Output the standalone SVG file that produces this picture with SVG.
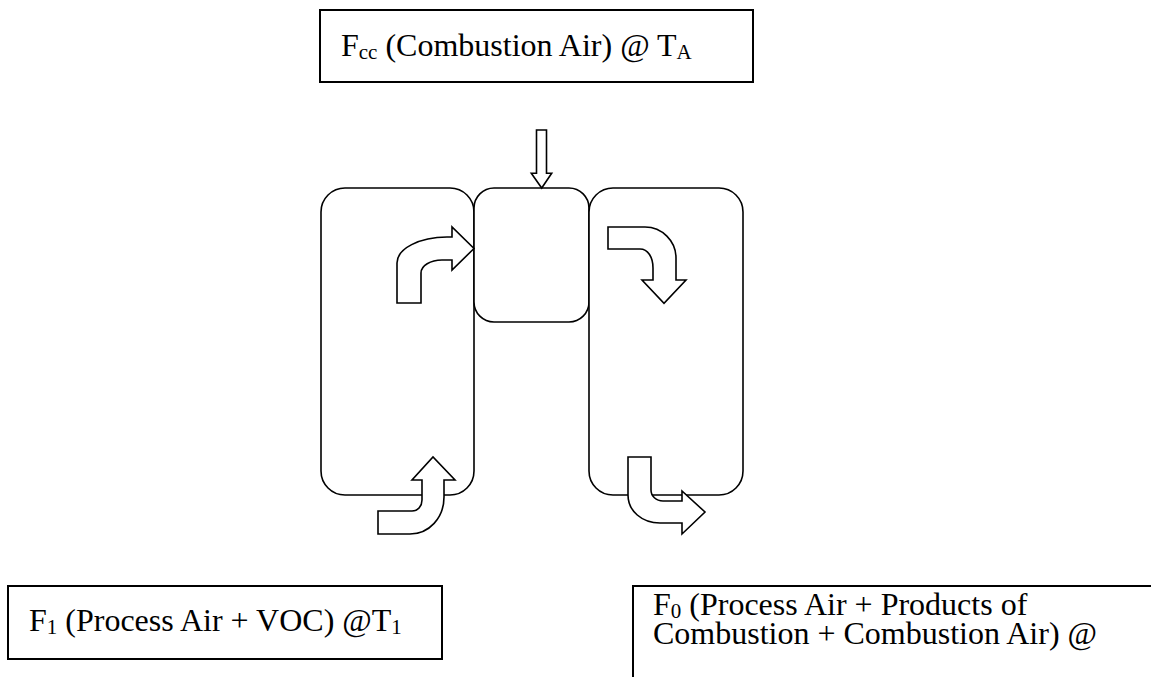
<svg xmlns="http://www.w3.org/2000/svg" width="1151" height="677" viewBox="0 0 1151 677">
<style>
.box{fill:#fff;stroke:#000;stroke-width:2}
.unit{fill:#fff;stroke:#000;stroke-width:1.6}
.arr{fill:#fff;stroke:#000;stroke-width:1.6;stroke-linejoin:miter}
.t{font-family:"Liberation Serif","Times New Roman",serif;font-size:32px;fill:#000}
.sub{font-size:21px}
</style>
<rect width="1151" height="677" fill="#fff"/>
<g id="label-combustion-air">
<rect class="box" x="320" y="10" width="433" height="72"/>
<text class="t" x="341" y="56">F<tspan class="sub" dy="3">cc</tspan><tspan dy="-3"> (Combustion Air) @ T</tspan><tspan class="sub" dy="3">A</tspan></text>
</g>
<g id="preheat-chamber">
<rect class="unit" x="321" y="188" width="153" height="307" rx="24"/>
</g>
<g id="combustion-chamber">
<rect class="unit" x="474" y="188" width="115" height="134" rx="20"/>
</g>
<g id="recovery-chamber">
<rect class="unit" x="589" y="188" width="154" height="307" rx="24"/>
</g>
<g id="label-process-air">
<rect class="box" x="8" y="586" width="434" height="73"/>
<text class="t" x="29" y="631">F<tspan class="sub" dy="3">1</tspan><tspan dy="-3"> (Process Air + VOC) @T</tspan><tspan class="sub" dy="3">1</tspan></text>
</g>
<g id="label-outlet">
<rect class="box" x="633" y="586" width="600" height="200"/>
<text class="t" x="653" y="615">F<tspan class="sub" dy="3">0</tspan><tspan dy="-3"> (Process Air + Products of</tspan><tspan x="653" dy="29">Combustion + Combustion Air) @</tspan></text>
</g>
<g id="connectors">
<path class="arr" d="M536.5,130 H546.5 V173.3 H551.7 L541.7,188 L531.3,173.3 H536.5 Z"/>
<path class="arr" d="M397,303 V263 C397,248.7 419.4,237 447,237 H452 V227 L474,248.5 L452,270 V260 H442 C430.4,260 421,265.8 421,273 V303 Z"/>
<path class="arr" d="M608,227 H645 C662,227 676,241 676,258 V280 H686 L664,303.3 L642,280 H653 V268 C653,257.5 648,249 640,249 H608 Z"/>
<path class="arr" d="M378,511 H412 C418,511 422,506 422,500 V480 H412 L433,457 L455,480 H444 V497 C444,518 429,534 410,534 H378 Z"/>
<path class="arr" d="M628,457 H651 V490 C651,496 656,501 663,501 H682 V491 L705,512 L682,534 V523 H660 C642,523 628,511 628,495 Z"/>
</g>
</svg>
